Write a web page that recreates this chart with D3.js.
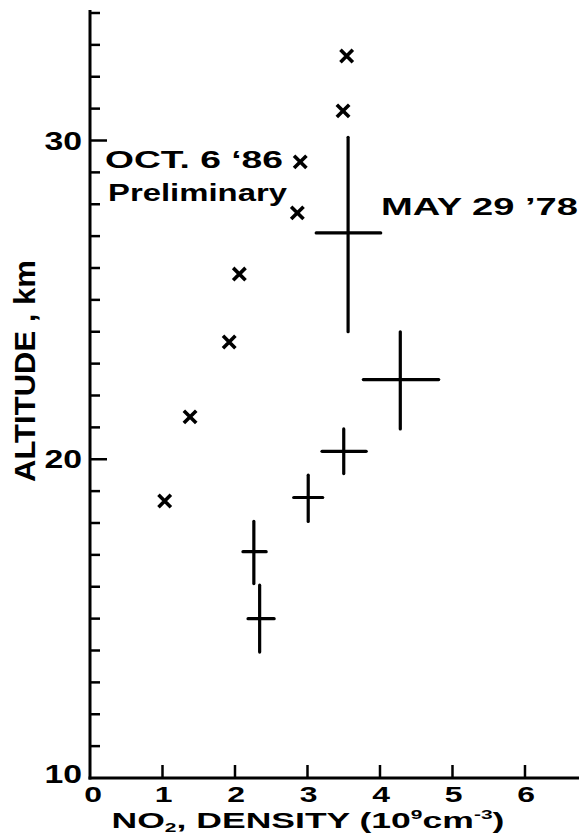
<!DOCTYPE html>
<html>
<head>
<meta charset="utf-8">
<script src="https://cdn.jsdelivr.net/npm/d3@7"></script>
<style>
  html, body { margin: 0; padding: 0; background: #fff; }
  svg { display: block; }
  text { font-family: "Liberation Sans", Arial, Helvetica, sans-serif; font-weight: bold; fill: #000; }
</style>
</head>
<body>
<svg id="chart" width="579" height="836"></svg>
<script>
// OCT. 6 '86 (Preliminary) — x markers
const octDensity  = [1.03, 1.38, 1.92, 2.06, 2.86, 2.90, 3.49, 3.54];
const octAltitude = [18.69, 21.33, 23.68, 25.81, 27.73, 29.33, 30.93, 32.65];

// MAY 29 '78 — points with error bars
const mayDensity   = [2.34, 2.26, 3.01, 3.50, 4.28, 3.56];
const mayAltitude  = [15.0, 17.1, 18.8, 20.25, 22.5, 27.1];
const mayDensityLo = [2.18, 2.11, 2.81, 3.20, 3.77, 3.12];
const mayDensityHi = [2.54, 2.43, 3.21, 3.81, 4.81, 4.01];
const mayAltLo     = [13.95, 16.1, 18.05, 19.55, 20.95, 24.0];
const mayAltHi     = [16.05, 18.05, 19.5, 20.95, 24.0, 30.1];

const xTickValues = [0, 1, 2, 3, 4, 5, 6];
const yTickValues = [10, 20, 30];
const yMinorTicks = d3.range(11, 35);

const svg = d3.select("#chart");
const x = d3.scaleLinear().domain([0, 6.745]).range([90, 579]);
const y = d3.scaleLinear().domain([10, 34]).range([778, 13]);

// horizontally stretched text (the reference uses a wide bold face)
function wideText(parent, str, px, py, size, opts = {}) {
  const t = parent.append("text").attr("font-size", size)
    .attr("text-anchor", opts.anchor || "start").text(str);
  const w = t.node().getComputedTextLength();
  const sx = opts.width ? opts.width / w : (opts.sx || 1);
  const rot = opts.rotate ? ` rotate(${opts.rotate})` : "";
  t.attr("transform", `translate(${px},${py})${rot} scale(${sx},1)`);
  return t;
}

// Axes lines
const axisW = 3;
svg.append("line").attr("x1", x(0)).attr("x2", x(0)).attr("y1", y(34) - 3).attr("y2", y(10) + 1.5)
  .attr("stroke", "#000").attr("stroke-width", axisW);
svg.append("line").attr("x1", x(0) - 1.5).attr("x2", 579).attr("y1", y(10)).attr("y2", y(10))
  .attr("stroke", "#000").attr("stroke-width", axisW);

// Y ticks (inside, right)
svg.append("g").selectAll("line").data(yMinorTicks).join("line")
  .attr("x1", x(0)).attr("x2", d => x(0) + (d % 10 === 0 ? 17 : 10))
  .attr("y1", d => y(d)).attr("y2", d => y(d))
  .attr("stroke", "#000").attr("stroke-width", 2.5);

// X ticks (inside, up)
svg.append("g").selectAll("line").data(xTickValues.filter(d => d > 0)).join("line")
  .attr("x1", d => x(d)).attr("x2", d => x(d))
  .attr("y1", y(10)).attr("y2", y(10) - 13)
  .attr("stroke", "#000").attr("stroke-width", 2.5);

// Y tick labels
const gy = svg.append("g");
yTickValues.forEach(d => {
  wideText(gy, String(d), 82, y(d) + (d === 10 ? 5 : 9), 25, { anchor: "end", sx: 1.35 });
});

// X tick labels
const gx = svg.append("g");
xTickValues.forEach(d => {
  wideText(gx, String(d), x(d) + (d === 0 ? 3 : 1), 802, 22, { anchor: "middle", sx: 1.45 });
});

// Axis titles
wideText(svg, "ALTITUDE , km", 35, 371, 29, { anchor: "middle", rotate: -90, width: 222 });

const xt = svg.append("text").attr("font-size", 22).attr("text-anchor", "middle");
xt.append("tspan").text("NO");
xt.append("tspan").attr("font-size", 13).attr("dy", 4).text("2");
xt.append("tspan").attr("dy", -4).text(", DENSITY  (10");
xt.append("tspan").attr("font-size", 13).attr("dy", -9).text("9");
xt.append("tspan").attr("dy", 9).text("cm");
xt.append("tspan").attr("font-size", 13).attr("dy", -9).text("-3");
xt.append("tspan").attr("dy", 9).text(")");
{
  const w = xt.node().getComputedTextLength();
  xt.attr("transform", `translate(308,828) scale(${393 / w},1)`);
}

// Error bars
const lw = 3.2;
const bars = svg.append("g").attr("stroke", "#000").attr("stroke-width", lw).attr("stroke-linecap", "round");
bars.selectAll("line.v").data(mayDensity).join("line").attr("class", "v")
  .attr("x1", d => x(d)).attr("x2", d => x(d))
  .attr("y1", (d, i) => y(mayAltLo[i])).attr("y2", (d, i) => y(mayAltHi[i]));
bars.selectAll("line.h").data(mayDensity).join("line").attr("class", "h")
  .attr("x1", (d, i) => x(mayDensityLo[i])).attr("x2", (d, i) => x(mayDensityHi[i]))
  .attr("y1", (d, i) => y(mayAltitude[i])).attr("y2", (d, i) => y(mayAltitude[i]));

// x markers
const s = 6.2;
svg.append("g").attr("stroke", "#000").attr("stroke-width", 3.6).attr("stroke-linecap", "butt")
  .selectAll("path").data(octDensity).join("path")
  .attr("d", (d, i) => {
    const cx = x(d), cy = y(octAltitude[i]);
    return `M${cx - s},${cy - s}L${cx + s},${cy + s}M${cx + s},${cy - s}L${cx - s},${cy + s}`;
  });

// Labels
wideText(svg, "OCT. 6 \u201886", 105, 168, 23, { width: 178 });
wideText(svg, "Preliminary", 108, 201, 23, { width: 179 });
wideText(svg, "MAY 29 \u201978", 381, 215, 24, { width: 197 });
</script>
</body>
</html>
